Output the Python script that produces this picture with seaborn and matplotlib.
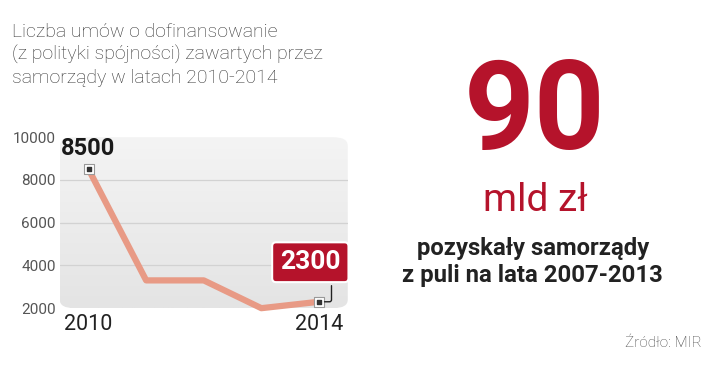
import numpy as np
import pandas as pd
import seaborn as sns
import matplotlib.pyplot as plt
from matplotlib.patches import FancyBboxPatch

years = [2010, 2011, 2012, 2013, 2014]
umowy = [8500, 3300, 3300, 2000, 2300]
yticks = [2000, 4000, 6000, 8000, 10000]

df = pd.DataFrame({'rok': years, 'umowy': umowy})

sns.set_style("white")
plt.rcParams['font.family'] = ['Roboto', 'DejaVu Sans']

red = '#b5132b'
fig = plt.figure(figsize=(7.2, 3.8), dpi=100)
ax = fig.add_axes([0.083, 0.189, 0.40, 0.45])

# tlo wykresu - zaokraglony prostokat z gradientem
bg = FancyBboxPatch((0, 0), 1, 1, boxstyle='round,pad=0,rounding_size=0.05',
                    transform=ax.transAxes, fc='none', ec='none', zorder=0)
ax.add_patch(bg)
grad = np.linspace(0, 1, 100).reshape(-1, 1)
im = ax.imshow(grad, extent=[0, 1, 0, 1], transform=ax.transAxes, aspect='auto',
               cmap=sns.blend_palette(['#f4f4f4', '#e4e4e4'], as_cmap=True),
               origin='upper', zorder=0)
im.set_clip_path(bg)
for yv in yticks[1:-1]:
    ax.axhline(yv, color='#d2d2d2', lw=0.9, zorder=1)

sns.lineplot(data=df, x='rok', y='umowy', ax=ax, color='#e89a85', lw=4.5,
             zorder=3, clip_on=False)

ends = df.iloc[[0, -1]]
ax.scatter(ends['rok'], ends['umowy'], marker='s', s=55, c='white',
           edgecolors='#999999', linewidths=0.8, zorder=4, clip_on=False)
ax.scatter(ends['rok'], ends['umowy'], marker='s', s=9, c='#333333',
           zorder=5, clip_on=False)

ax.set_xlim(2009.5, 2014.5)
ax.set_ylim(2000, 10000)
ax.set_yticks(yticks)
ax.set_yticklabels([str(v) for v in yticks], color='#555555', fontsize=11)
ax.set_xticks([years[0], years[-1]])
ax.set_xticklabels([str(years[0]), str(years[-1])], color='#222222', fontsize=15.5)
ax.tick_params(axis='y', length=0, pad=3)
ax.tick_params(axis='x', length=0, pad=4)
ax.set_xlabel('')
ax.set_ylabel('')
sns.despine(ax=ax, left=True, bottom=True)
ax.patch.set_alpha(0)

ax.text(years[0], 9450, str(umowy[0]), ha='center', va='center', fontsize=17,
        fontweight='bold', color='#1a1a1a', zorder=6)

ax.annotate(str(umowy[-1]), xy=(years[-1], umowy[-1]), xytext=(2013.85, 4150),
            ha='center', va='center', fontsize=19, fontweight='bold', color='white',
            bbox=dict(boxstyle='round,pad=0.3,rounding_size=0.15', fc=red,
                      ec='white', lw=1.5),
            arrowprops=dict(arrowstyle='-', color='#222222', lw=1,
                            connectionstyle='angle,angleA=-90,angleB=0,rad=2',
                            relpos=(0.85, 0), shrinkA=2, shrinkB=4),
            zorder=7, annotation_clip=False)

title = ['Liczba umów o dofinansowanie',
         '(z polityki spójności) zawartych przez',
         'samorządy w latach 2010-2014']
for i, line in enumerate(title):
    fig.text(0.017, 0.903 - i * 0.0605, line, fontsize=14, fontweight='light',
             color='#333333', va='baseline')

fig.text(0.743, 0.607, '90', fontsize=89, fontweight='bold', color=red,
         ha='center', va='baseline')
fig.text(0.743, 0.445, 'mld zł', fontsize=28, color=red, ha='center',
         va='baseline')
fig.text(0.74, 0.328, 'pozyskały samorządy', fontsize=17.2, fontweight='bold',
         color='#222222', ha='center', va='baseline')
fig.text(0.74, 0.257, 'z puli na lata 2007-2013', fontsize=17.2,
         fontweight='bold', color='#222222', ha='center', va='baseline')
fig.text(0.975, 0.097, 'Źródło: MIR', fontsize=11, color='#444444',
         ha='right', va='center', fontweight='light')

fig.savefig('out.png', dpi=100)
